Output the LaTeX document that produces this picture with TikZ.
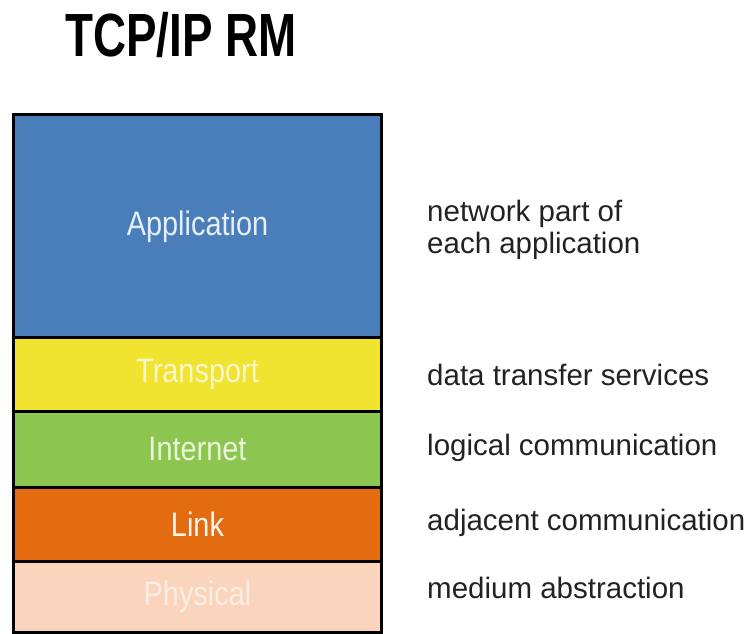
\documentclass[tikz,border=0pt]{standalone}
\usepackage{fontspec}
\setmainfont{Liberation Sans}
\newfontfamily\titlefont[FakeStretch=0.75]{Liberation Sans}
\newfontfamily\layerfont[FakeStretch=0.85]{Liberation Sans}

\definecolor{appblue}{RGB}{74,126,187}
\definecolor{trnyellow}{RGB}{240,228,48}
\definecolor{netgreen}{RGB}{140,198,80}
\definecolor{linkorange}{RGB}{228,108,16}
\definecolor{phypeach}{RGB}{250,212,188}
\definecolor{desctext}{RGB}{34,34,34}

\tikzset{
  layer/.style={draw=black, line width=3bp, minimum width=368bp,
    inner sep=0pt, outer sep=0pt,
    font=\layerfont\fontsize{34bp}{36bp}\selectfont},
  desc/.style={anchor=base west, inner sep=0pt, text=desctext, align=left,
    font=\fontsize{29.5bp}{31bp}\selectfont},
}

\begin{document}
\begin{tikzpicture}[x=1bp, y=-1bp]
  \useasboundingbox (0,0) rectangle (753,634);

  % title
  \node[anchor=base west, inner sep=0pt,
        font=\titlefont\bfseries\fontsize{61bp}{66bp}\selectfont]
        (title) at (65,57) {TCP/IP RM};

  % protocol stack
  \node[layer, fill=appblue, minimum height=222.5bp, text={rgb,255:red,230;green,238;blue,250}]
        (app) at (197.5,226.25) {Application};
  \node[layer, fill=trnyellow, minimum height=73.5bp, text={rgb,255:red,251;green,246;blue,200}]
        (trn) at (197.5,374.25) {Transport};
  \node[layer, fill=netgreen, minimum height=76.5bp, text={rgb,255:red,232;green,245;blue,216}]
        (net) at (197.5,449.25) {Internet};
  \node[layer, fill=linkorange, minimum height=73.5bp, text={rgb,255:red,255;green,246;blue,238}]
        (lnk) at (197.5,524.25) {Link};
  \node[layer, fill=phypeach, minimum height=71bp, text={rgb,255:red,253;green,238;blue,228}]
        (phy) at (197.5,596.5) {Physical};

  % layer descriptions (base anchor of the two-line node is its last line)
  \node[desc] (dapp) at (427,253) {network part of\\each application};
  \node[desc] (dtrn) at (427,385) {data transfer services};
  \node[desc] (dnet) at (427,455) {logical communication};
  \node[desc] (dlnk) at (427,530) {adjacent communication};
  \node[desc] (dphy) at (427,598) {medium abstraction};
\end{tikzpicture}
\end{document}
